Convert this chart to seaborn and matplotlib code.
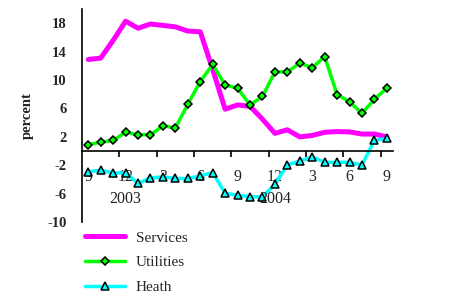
import numpy as np
import pandas as pd
import matplotlib
matplotlib.use("Agg")
import matplotlib.pyplot as plt
import seaborn as sns

# monthly series, Sep 2002 .. Sep 2004
months = [9, 10, 11, 12, 1, 2, 3, 4, 5, 6, 7, 8,
          9, 10, 11, 12, 1, 2, 3, 4, 5, 6, 7, 8, 9]
services = [12.9, 13.1, 15.6, 18.3, 17.3, 17.9, 17.7, 17.5, 16.9, 16.8, 11.5, 5.9,
            6.5, 6.3, 4.5, 2.5, 3.0, 2.0, 2.2, 2.65, 2.75, 2.7, 2.4, 2.4, 2.0]
utilities = [0.9, 1.26, 1.5, 2.66, 2.3, 2.3, 3.55, 3.27, 6.6, 9.8, 12.2, 9.3,
             8.87, 6.5, 7.7, 11.15, 11.15, 12.4, 11.75, 13.3, 7.97, 6.95, 5.3, 7.3, 8.87]
heath = [-2.9, -2.7, -3.07, -3.07, -4.56, -3.77, -3.63, -3.86, -3.86, -3.49, -3.03, -5.96,
         -6.2, -6.43, -6.43, -4.7, -1.95, -1.4, -0.84, -1.58, -1.58, -1.58, -1.95, 1.5, 1.78]
year_labels = {3: "2003", 15: "2004"}
y_ticks = [18, 14, 10, 6, 2, -2, -6, -10]

df = pd.DataFrame({"idx": np.arange(len(months)), "Services": services,
                   "Utilities": utilities, "Heath": heath})

sns.set_theme(style="white")
plt.rcParams["font.family"] = ["Liberation Serif", "DejaVu Serif"]

fig = plt.figure(figsize=(4.56, 2.93), dpi=100)
ax = fig.add_axes([0.18, 0.242, 0.682, 0.727])

sns.lineplot(data=df, x="idx", y="Services", ax=ax, color="#ff00ff", lw=3.6,
             label="Services")
sns.lineplot(data=df, x="idx", y="Utilities", ax=ax, color="#00ff00", lw=2.5,
             marker="D", markersize=4.5, markerfacecolor="#00ff00",
             markeredgecolor="black", markeredgewidth=1.1, label="Utilities")
sns.lineplot(data=df, x="idx", y="Heath", ax=ax, color="#00ffff", lw=2.5,
             marker="^", markersize=6, markerfacecolor="#00ffff",
             markeredgecolor="black", markeredgewidth=1.1, label="Heath")

n = len(months)
ax.set_xlim(-0.5, n - 0.5)
ax.set_ylim(-10, 20)
ax.set_xlabel("")
ax.set_ylabel("percent", fontsize=10.5, fontweight="bold", labelpad=10)

ax.spines["bottom"].set_position(("data", 0))
for s in ["top", "right"]:
    ax.spines[s].set_visible(False)
for s in ["left", "bottom"]:
    ax.spines[s].set_color("black")
    ax.spines[s].set_linewidth(1.2)

ax.set_yticks(y_ticks)
ax.set_yticklabels([str(v) for v in y_ticks], fontweight="bold", fontsize=10.5)
ax.tick_params(axis="y", direction="out", length=4, width=1.2, color="black", pad=7)

major = list(range(0, n, 3))
ax.set_xticks(major)
ax.set_xticklabels([str(months[i]) for i in major], fontsize=11.5)
ax.set_xticks(np.arange(2.5, n - 1, 3), minor=True)
ax.tick_params(axis="x", which="major", length=0, pad=13)
ax.tick_params(axis="x", which="minor", bottom=True, direction="out", length=4,
               width=1.2, color="black")

for xi, txt in year_labels.items():
    ax.text(xi, -6.75, txt, ha="center", va="center", fontsize=11.5, color="#222222")

ax.get_legend().remove()
h, l = ax.get_legend_handles_labels()
fig.legend(h, l, loc="upper left", bbox_to_anchor=(0.187, 0.212), frameon=False,
           fontsize=11, handlelength=2.6, handletextpad=0.7, labelspacing=0.72,
           borderpad=0, borderaxespad=0)

fig.savefig("out.png", dpi=100)
